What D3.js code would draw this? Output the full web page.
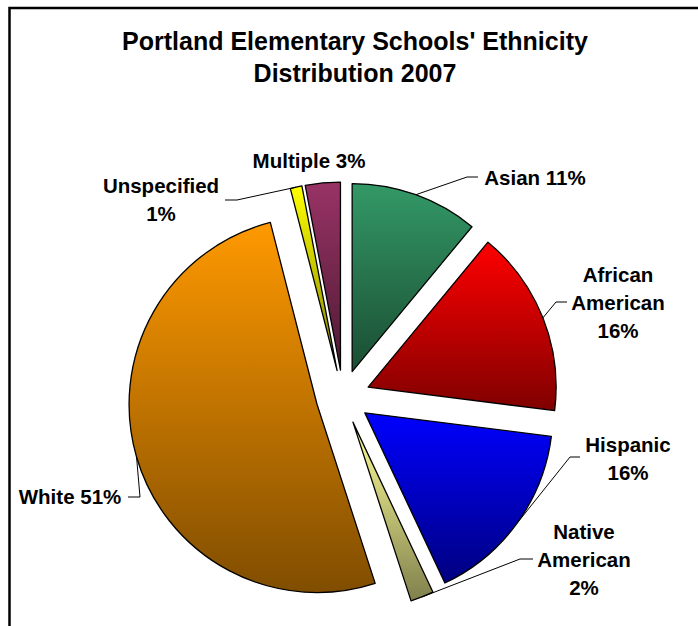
<!DOCTYPE html>
<html>
<head>
<meta charset="utf-8">
<script src="https://cdn.jsdelivr.net/npm/d3@7/dist/d3.min.js"></script>
<style>
  html, body { margin: 0; padding: 0; background: #fff; }
  svg { display: block; }
  text { font-family: "Liberation Sans", Arial, Helvetica, sans-serif; font-weight: bold; fill: #000; }
</style>
</head>
<body>
<svg id="chart" width="698" height="626"></svg>
<script>
// ---- data ----
const categories = ["Asian", "African American", "Hispanic", "Native American", "White", "Unspecified", "Multiple"];
const values = [11, 16, 16, 2, 51, 1, 3];
const labelLines = [
  ["Asian 11%"],
  ["African", "American", "16%"],
  ["Hispanic", "16%"],
  ["Native", "American", "2%"],
  ["White 51%"],
  ["Unspecified", "1%"],
  ["Multiple 3%"]
];
const titleLines = ["Portland Elementary Schools' Ethnicity", "Distribution 2007"];

// ---- styles / layout ----
const baseColors = ["#339966", "#ff0000", "#0000ff", "#ffff99", "#ff9900", "#ffff00", "#993366"];
const labelLayout = [
  { x: 535, y: 185, elbow: [467, 177], end: [478, 177] },
  { x: 618, y: 282, elbow: [556, 302], end: [567, 302] },
  { x: 628, y: 452, elbow: [570, 457], end: [580, 457] },
  { x: 584, y: 539, elbow: [520, 559], end: [533, 559] },
  { x: 70,  y: 504, elbow: [140, 497], end: [128, 497] },
  { x: 161, y: 193, elbow: [237, 200], end: [225, 200] },
  { x: 309, y: 168, elbow: null, end: null }
];
const cx = 343, cy = 397, R = 188, explode = 27, lineH = 28;

const svg = d3.select("#chart");
const defs = svg.append("defs");

// border (extends beyond the window on right/bottom)
svg.append("rect")
  .attr("x", 9.5).attr("y", 8).attr("width", 760).attr("height", 700)
  .attr("fill", "#fff").attr("stroke", "#000").attr("stroke-width", 2.5);

// title
svg.append("text")
  .attr("text-anchor", "middle")
  .style("font-size", "25px")
  .selectAll("tspan").data(titleLines).join("tspan")
  .attr("x", 355)
  .attr("y", (d, i) => 50 + i * 32)
  .text(d => d);

// gradients: base colour at top to half-dark at bottom
baseColors.forEach((c, i) => {
  const base = d3.rgb(c);
  const dark = d3.rgb(base.r * 0.5, base.g * 0.5, base.b * 0.5);
  const g = defs.append("linearGradient")
    .attr("id", "grad" + i)
    .attr("x1", 0).attr("y1", 0).attr("x2", 0).attr("y2", 1);
  g.append("stop").attr("offset", "0%").attr("stop-color", base.formatHex());
  g.append("stop").attr("offset", "100%").attr("stop-color", dark.formatHex());
});

const pie = d3.pie().sort(null).value(d => d)(values);
const arc = d3.arc().innerRadius(0).outerRadius(R);

const mid = d => (d.startAngle + d.endAngle) / 2;
const offset = d => [Math.sin(mid(d)) * explode, -Math.cos(mid(d)) * explode];

const slices = svg.append("g").attr("transform", `translate(${cx},${cy})`);
slices.selectAll("path").data(pie).join("path")
  .attr("transform", d => { const o = offset(d); return `translate(${o[0]},${o[1]})`; })
  .attr("d", arc)
  .attr("fill", (d, i) => `url(#grad${i})`)
  .attr("stroke", "#000")
  .attr("stroke-width", 1.3)
  .attr("stroke-linejoin", "round");

// leader lines
const line = d3.line();
pie.forEach((d, i) => {
  const L = labelLayout[i];
  if (!L.elbow) return;
  const o = offset(d);
  const a = mid(d);
  const p0 = [cx + o[0] + Math.sin(a) * R, cy + o[1] - Math.cos(a) * R];
  svg.append("path")
    .attr("d", line([p0, L.elbow, L.end]))
    .attr("fill", "none").attr("stroke", "#000").attr("stroke-width", 1);
});

// labels
labelLines.forEach((lines, i) => {
  const L = labelLayout[i];
  svg.append("text")
    .attr("text-anchor", "middle")
    .style("font-size", "20.5px")
    .selectAll("tspan").data(lines).join("tspan")
    .attr("x", L.x)
    .attr("y", (d, j) => L.y + j * lineH)
    .text(d => d);
});
</script>
</body>
</html>
